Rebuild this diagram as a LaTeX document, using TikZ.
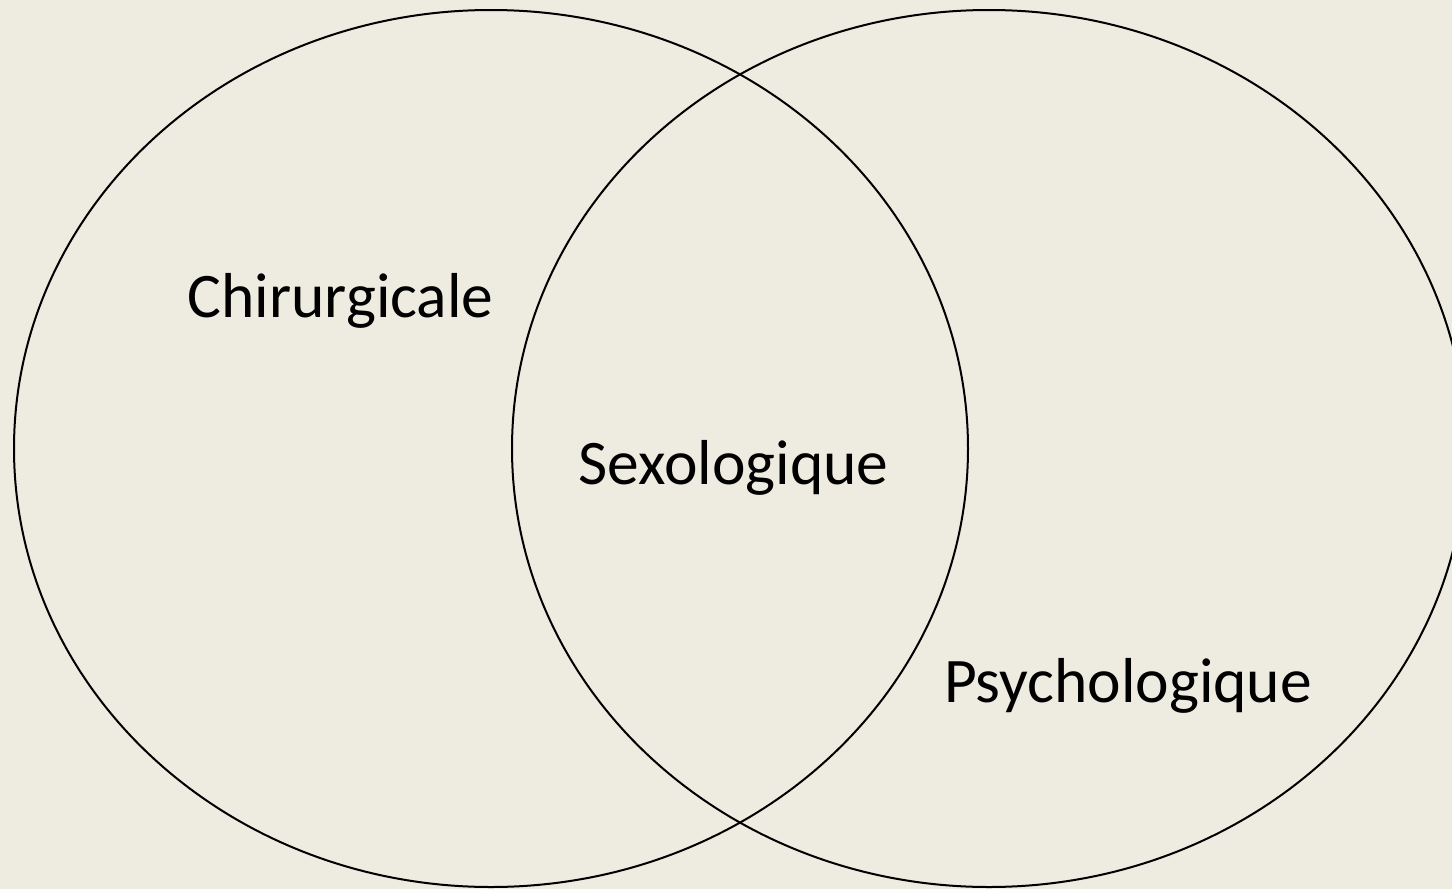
\documentclass[tikz,border=0pt]{standalone}
\usepackage{fontspec}
\setmainfont{Carlito}
\definecolor{bg}{HTML}{EEECE1}
\begin{document}
\begin{tikzpicture}[x=1pt,y=-1pt,
  ring/.style={draw=black,line width=2pt},
  lbl/.style={anchor=base,inner sep=0pt,font=\fontsize{63.5}{76}\selectfont}]
\fill[bg] (0,0) rectangle (1452,889);
\useasboundingbox (0,0) rectangle (1452,889);
\draw[ring] (491,448.5) ellipse [x radius=477, y radius=438.5];
\draw[ring] (989,448.5) ellipse [x radius=477, y radius=438.5];
\node[lbl] (chir) at (340.5,317) {Chirurgicale};
\node[lbl] (sexo) at (733.5,484) {Sexologique};
\node[lbl] (psy) at (1128,702) {Psychologique};
\end{tikzpicture}
\end{document}
